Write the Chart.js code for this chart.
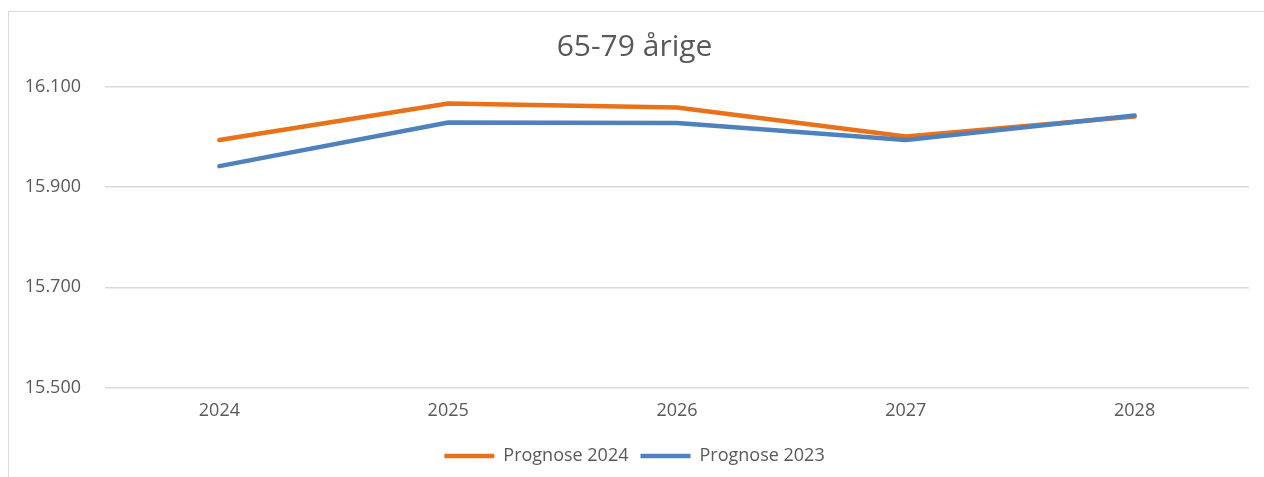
<!DOCTYPE html>
<html>
<head>
<meta charset="utf-8">
<script src="https://cdn.jsdelivr.net/npm/chart.js@4"></script>
<style>
html,body{margin:0;padding:0;background:#fff;}
#wrap{position:relative;width:1264px;height:477px;}
#frame{position:absolute;left:8px;top:11px;right:-4px;bottom:-4px;border:1px solid #d9d9d9;}
canvas{position:absolute;left:0;top:0;}
</style>
</head>
<body>
<div id="wrap">
<div id="frame"></div>
<canvas id="chart" width="1264" height="477"></canvas>
</div>
<script>
// data
let years = ["2024","2025","2026","2027","2028"];
let prognose2024 = [15994, 16067, 16059, 16001, 16041];
let prognose2023 = [15942, 16029, 16028, 15994, 16043];
let seriesNames = ["Prognose 2024","Prognose 2023"];
let titleText = "65-79 årige";

let txt = "#595959";
let font = "'Open Sans', 'Noto Sans', sans-serif";

function fmt(v){
return String(v).replace(/\B(?=(\d{3})+(?!\d))/g,".");
}

let chart = new Chart(document.getElementById("chart"),{
type:"line",
data:{
labels:years,
datasets:[
{label:seriesNames[0],data:prognose2024,borderColor:"#e8711a",backgroundColor:"#e8711a",borderWidth:4.5,order:1},
{label:seriesNames[1],data:prognose2023,borderColor:"#4f81bd",backgroundColor:"#4f81bd",borderWidth:4.5,order:0}
]
},
options:{
responsive:false,
animation:false,
layout:{padding:{left:20,right:15,top:0,bottom:2}},
elements:{
line:{tension:0,borderCapStyle:"round",borderJoinStyle:"round"},
point:{radius:0,hoverRadius:0}
},
plugins:{
title:{display:true,text:titleText,color:txt,font:{family:font,size:30,weight:"normal"},padding:{top:29,bottom:22}},
legend:{
position:"bottom",
labels:{
usePointStyle:true,pointStyle:"line",pointStyleWidth:50,
color:txt,font:{family:font,size:18},padding:12,
sort:(a,b)=>a.datasetIndex-b.datasetIndex
}
},
tooltip:{enabled:false}
},
scales:{
x:{
offset:true,
grid:{display:false,drawTicks:false},
border:{display:false},
ticks:{color:txt,font:{family:font,size:18},padding:13}
},
y:{
min:15500,max:16100,
afterFit:s=>{s.width=85;},
grid:{color:"#d9d9d9",lineWidth:1.5,drawTicks:false},
border:{display:false},
ticks:{stepSize:200,color:txt,font:{family:font,size:18},padding:24,callback:v=>fmt(v)}
}
}
}
});
</script>
</body>
</html>
